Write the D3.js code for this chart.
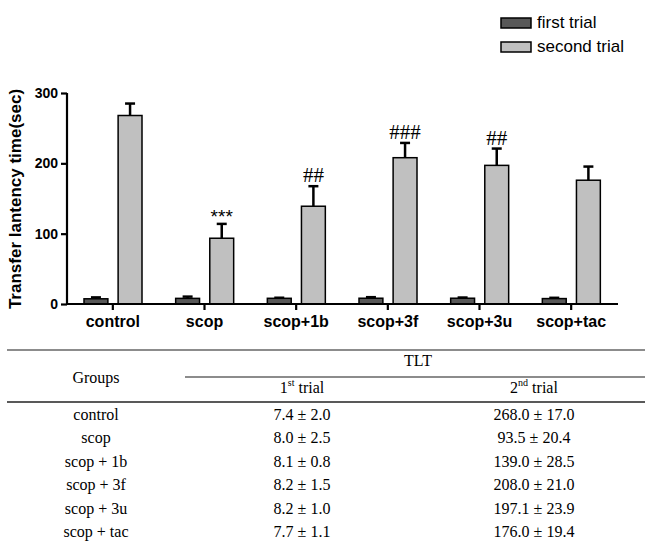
<!DOCTYPE html>
<html>
<head>
<meta charset="utf-8">
<script src="https://cdn.jsdelivr.net/npm/d3@7"></script>
<style>
  body { margin: 0; background: #fff; }
  svg { display: block; }
</style>
</head>
<body>
<div id="chart"></div>
<script>
var groups = ["control", "scop", "scop+1b", "scop+3f", "scop+3u", "scop+tac"];
var tableGroups = ["control", "scop", "scop + 1b", "scop + 3f", "scop + 3u", "scop + tac"];
var firstMean = [7.4, 8.0, 8.1, 8.2, 8.2, 7.7];
var firstErr = [2.0, 2.5, 0.8, 1.5, 1.0, 1.1];
var secondMean = [268.0, 93.5, 139.0, 208.0, 197.1, 176.0];
var secondErr = [17.0, 20.4, 28.5, 21.0, 23.9, 19.4];
var marks = ["", "***", "##", "###", "##", ""];
var series = ["first trial", "second trial"];
var yTicks = [0, 100, 200, 300];

var W = 645, H = 553;
var svg = d3.select("#chart").append("svg")
    .attr("width", W)
    .attr("height", H);

// scales
var x = d3.scaleBand().domain(groups).range([67, 617]).padding(0);
var xSub = d3.scaleBand().domain(series).range([17, 75]).paddingInner(0.3);
var y = d3.scaleLinear().domain([0, 300]).range([304, 93]);
var color = d3.scaleOrdinal().domain(series).range(["#585858", "#c0c0c0"]);

var data = groups.map(function(g, i) {
  return {group: g, mark: marks[i], values: [
    {key: series[0], mean: firstMean[i], err: firstErr[i]},
    {key: series[1], mean: secondMean[i], err: secondErr[i]}
  ]};
});

// bars + error bars
var gg = svg.append("g").selectAll("g")
  .data(data)
  .join("g")
  .attr("transform", d => `translate(${x(d.group)},0)`);

gg.selectAll("line.err")
  .data(d => d.values)
  .join("line")
  .attr("class", "err")
  .attr("x1", d => xSub(d.key) + xSub.bandwidth() / 2)
  .attr("x2", d => xSub(d.key) + xSub.bandwidth() / 2)
  .attr("y1", d => y(d.mean))
  .attr("y2", d => y(d.mean + d.err))
  .attr("stroke", "#000").attr("stroke-width", 2.5);

gg.selectAll("line.cap")
  .data(d => d.values)
  .join("line")
  .attr("class", "cap")
  .attr("x1", d => xSub(d.key) + xSub.bandwidth() / 2 - 5)
  .attr("x2", d => xSub(d.key) + xSub.bandwidth() / 2 + 5)
  .attr("y1", d => y(d.mean + d.err))
  .attr("y2", d => y(d.mean + d.err))
  .attr("stroke", "#000").attr("stroke-width", 2.5);

gg.selectAll("rect")
  .data(d => d.values)
  .join("rect")
  .attr("x", d => xSub(d.key))
  .attr("y", d => y(d.mean))
  .attr("width", xSub.bandwidth())
  .attr("height", d => y(0) - y(d.mean))
  .attr("fill", d => color(d.key))
  .attr("stroke", "#000")
  .attr("stroke-width", 1.5);

// significance marks above second trial error bars
gg.append("text")
  .attr("x", xSub(series[1]) + xSub.bandwidth() / 2)
  .attr("y", d => y(d.values[1].mean + d.values[1].err) - (d.mark == "***" ? 1 : 4))
  .attr("text-anchor", "middle")
  .style("font-family", d => d.mark == "***" ? "Liberation Sans, Arial" : "Liberation Serif, Times New Roman")
  .style("font-size", d => d.mark == "***" ? "19px" : "21px")
  .text(d => d.mark);

// y axis
var yAxis = svg.append("g")
  .attr("transform", "translate(67,0)")
  .call(d3.axisLeft(y).tickValues(yTicks).tickSize(6).tickPadding(3));
yAxis.select(".domain").attr("stroke-width", 2.2).attr("d", "M0,304V93");
yAxis.selectAll(".tick line").attr("stroke-width", 2.2);
yAxis.selectAll("text")
  .style("font-family", "Liberation Sans, Arial")
  .style("font-weight", "bold")
  .style("font-size", "14px")
  .attr("fill", "#000");

// x axis
var xAxis = svg.append("g")
  .attr("transform", "translate(0,304)")
  .call(d3.axisBottom(x).tickSize(6).tickPadding(6));
xAxis.select(".domain").attr("stroke-width", 2.2).attr("d", "M66,0H618");
xAxis.selectAll(".tick line").attr("stroke-width", 2.2);
xAxis.selectAll("text")
  .style("font-family", "Liberation Sans, Arial")
  .style("font-weight", "bold")
  .style("font-size", "16px")
  .attr("fill", "#000");

// y axis title
svg.append("text")
  .attr("transform", "translate(21,199) rotate(-90)")
  .attr("text-anchor", "middle")
  .style("font-family", "Liberation Sans, Arial")
  .style("font-weight", "bold")
  .style("font-size", "17px")
  .text("Transfer lantency time(sec)");

// legend
var leg = svg.append("g").selectAll("g")
  .data(series)
  .join("g")
  .attr("transform", (d, i) => `translate(501,${18 + i * 24})`);
leg.append("rect")
  .attr("width", 30).attr("height", 10)
  .attr("fill", d => color(d))
  .attr("stroke", "#000").attr("stroke-width", 1.5);
leg.append("text")
  .attr("x", 36).attr("y", 10)
  .style("font-family", "Liberation Sans, Arial")
  .style("font-size", "17px")
  .text(d => d);

// table
var tf = "Liberation Serif, Times New Roman";
var tbl = svg.append("g").style("font-family", tf).style("font-size", "16px");
tbl.append("line").attr("x1", 7).attr("x2", 645).attr("y1", 350).attr("y2", 350)
  .attr("stroke", "#666").attr("stroke-width", 1.5);
tbl.append("line").attr("x1", 185).attr("x2", 645).attr("y1", 377).attr("y2", 377)
  .attr("stroke", "#666").attr("stroke-width", 1.5);
tbl.append("line").attr("x1", 7).attr("x2", 645).attr("y1", 402).attr("y2", 402)
  .attr("stroke", "#222").attr("stroke-width", 1.5);

var colX = [96, 302, 534];
tbl.append("text").attr("x", colX[0]).attr("y", 383).attr("text-anchor", "middle").text("Groups");
tbl.append("text").attr("x", 418).attr("y", 366).attr("text-anchor", "middle").text("TLT");
[["1", "st"], ["2", "nd"]].forEach(function(h, i) {
  var t = tbl.append("text").attr("x", colX[i + 1]).attr("y", 393).attr("text-anchor", "middle");
  t.append("tspan").text(h[0]);
  t.append("tspan").attr("dy", -7).style("font-size", "10px").text(h[1]);
  t.append("tspan").attr("dy", 7).text(" trial");
});

var rowY = d3.scaleLinear().domain([0, 5]).range([420, 537]);
var rows = tbl.selectAll("g.row")
  .data(tableGroups)
  .join("g")
  .attr("class", "row")
  .attr("transform", (d, i) => `translate(0,${rowY(i)})`);
rows.append("text").attr("x", colX[0]).attr("text-anchor", "middle").text(d => d);
rows.append("text").attr("x", colX[1]).attr("text-anchor", "middle")
  .text((d, i) => firstMean[i].toFixed(1) + " \u00b1 " + firstErr[i].toFixed(1));
rows.append("text").attr("x", colX[2]).attr("text-anchor", "middle")
  .text((d, i) => secondMean[i].toFixed(1) + " \u00b1 " + secondErr[i].toFixed(1));
</script>
</body>
</html>
